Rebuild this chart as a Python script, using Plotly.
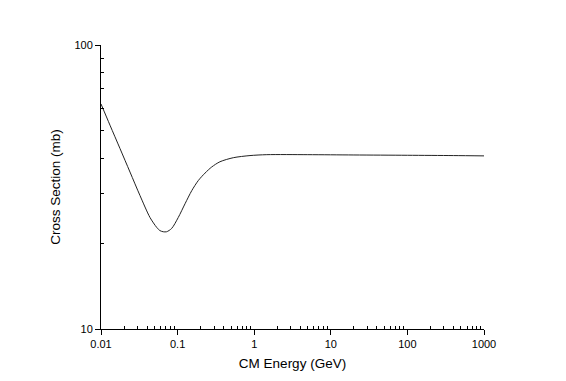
import plotly.graph_objects as go

# centre-of-mass energy (GeV) and cross section (mb)
energy = [0.01, 0.0131, 0.0177, 0.0239, 0.0323, 0.0436, 0.0533, 0.0589, 0.065, 0.0719,
          0.0837, 0.102, 0.125, 0.153, 0.186, 0.228, 0.279, 0.357, 0.533, 0.881,
          1.46, 5, 20, 100, 400, 1000]
cross_section = [62.0, 52.2, 43.2, 35.7, 29.5, 24.7, 22.8, 22.2, 22.0, 22.0,
                 22.6, 24.7, 27.6, 30.7, 33.3, 35.4, 37.2, 38.8, 40.1, 40.8,
                 41.1, 41.1, 41.0, 40.9, 40.8, 40.7]

x_ticks = [0.01, 0.1, 1, 10, 100, 1000]
x_labels = ["0.01", "0.1", "1", "10", "100", "1000"]
y_ticks = [10, 100]
y_labels = ["10", "100"]

x_minor = [m * 10 ** e for e in range(-2, 3) for m in range(2, 10)]
y_minor = [m * 10 for m in range(2, 10)]

fig = go.Figure(go.Scatter(x=energy, y=cross_section, mode="lines",
                           line=dict(color="#222", width=1, shape="spline", smoothing=0.8)))

axis_font = dict(family="Liberation Sans, Arial, sans-serif", size=11, color="black")

# page body has an 8px default margin, so the figure is shrunk to fit the window
fig.update_layout(
    width=558, height=373,
    margin=dict(l=93, r=82, t=37, b=45),
    paper_bgcolor="white", plot_bgcolor="white",
    showlegend=False,
    font=axis_font,
    xaxis=dict(type="log", range=[-2, 3], tickvals=x_ticks, ticktext=x_labels,
               ticks="outside", ticklen=5, tickwidth=1, tickcolor="black",
               showline=True, linecolor="black", linewidth=1, showgrid=False, zeroline=False,
               minor=dict(tickvals=x_minor, ticks="inside", ticklen=3, tickcolor="black", showgrid=False),
               title=dict(text="CM Energy (GeV)", font=dict(size=13.5), standoff=9)),
    yaxis=dict(type="log", range=[1, 2], tickvals=y_ticks, ticktext=y_labels,
               ticks="outside", ticklen=5, tickwidth=1, tickcolor="black",
               showline=True, linecolor="black", linewidth=1, showgrid=False, zeroline=False,
               minor=dict(tickvals=y_minor, ticks="inside", ticklen=3, tickcolor="black", showgrid=False),
               title=dict(text="Cross Section (mb)", font=dict(size=13.5), standoff=10)),
)

fig.write_html("out.html")
